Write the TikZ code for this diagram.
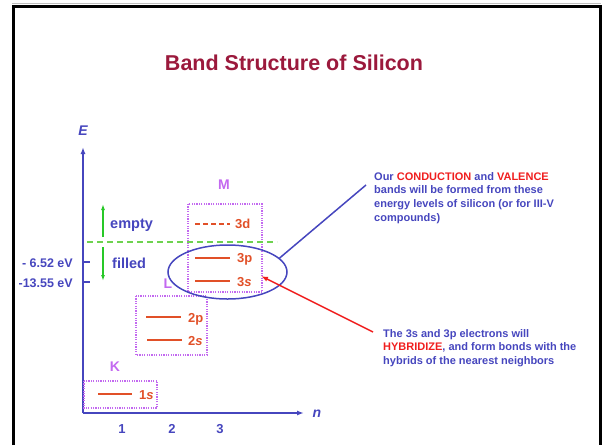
\documentclass[tikz,border=0pt]{standalone}
\usepackage{fontspec}
\setmainfont{Liberation Sans}
\usetikzlibrary{arrows.meta,shapes.geometric}
\definecolor{titlered}{RGB}{155,25,60}
\definecolor{axblue}{RGB}{70,70,190}
\definecolor{lvl}{RGB}{225,80,40}
\definecolor{vio}{RGB}{195,105,240}
\definecolor{grn}{RGB}{40,200,40}
\definecolor{lgrn}{RGB}{110,210,80}
\definecolor{hred}{RGB}{240,30,30}
\begin{document}
\begin{tikzpicture}[x=1pt,y=-1pt,
  lab/.style={inner sep=0pt,font=\fontsize{13}{15}\selectfont\bfseries},
  axlab/.style={lab,text=axblue},
  lvllab/.style={lab,text=lvl},
  shell/.style={inner sep=0pt,text=vio,font=\fontsize{14}{16}\selectfont\bfseries},
  shellbox/.style={draw=vio,line width=1.2pt,dash pattern=on 1.2pt off 1.2pt},
  level/.style={draw=lvl,line width=2pt},
  axis/.style={draw=axblue,line width=1.6pt,-{Latex[length=7pt,width=5pt]}},
  garrow/.style={draw=grn,line width=1.4pt,-{Latex[length=6pt,width=4pt]}},
  note/.style={inner sep=0pt,align=left,text=axblue,font=\fontsize{11}{13.8}\selectfont\bfseries}]
\useasboundingbox (0,0) rectangle (602,445);
% frame
\draw[black!25,line width=0.8pt] (12,3.6) -- (601,3.6);
\draw[line width=2.8pt] (13.5,445) -- (13.5,6.2) -- (600.5,6.2) -- (600.5,445);
% title
\node[inner sep=0pt,anchor=base,text=titlered,font=\fontsize{21.5}{24}\selectfont\bfseries] (title) at (294,70) {Band Structure of Silicon};
% axes
\coordinate (O) at (83,413);
\coordinate (Etip) at (83,147);
\coordinate (ntip) at (304,413);
\draw[axis] (O) -- (Etip);
\draw[axis] (O) -- (ntip);
\node[axlab,anchor=base,font=\fontsize{14}{16}\selectfont\bfseries\itshape] (E) at (83,135) {E};
\node[axlab,anchor=base,font=\fontsize{14}{16}\selectfont\bfseries\itshape] (n) at (317,417) {n};
\node[axlab,anchor=base] (x1) at (122,433) {1};
\node[axlab,anchor=base] (x2) at (172,433) {2};
\node[axlab,anchor=base] (x3) at (220,433) {3};
% ticks
\coordinate (t1a) at (83,262); \coordinate (t1b) at (90,262);
\coordinate (t2a) at (83,282); \coordinate (t2b) at (90,282);
\draw[axblue,line width=1.5pt] (t1a) -- (t1b);
\draw[axblue,line width=1.5pt] (t2a) -- (t2b);
\node[axlab,anchor=base east,font=\fontsize{12.5}{15}\selectfont\bfseries] (ev1) at (73,267) {- 6.52 eV};
\node[axlab,anchor=base east,font=\fontsize{12.5}{15}\selectfont\bfseries] (ev2) at (73,287) {-13.55 eV};
% empty / filled
\coordinate (gmid1) at (103,237);
\coordinate (gtop) at (103,204);
\coordinate (gmid2) at (103,247);
\coordinate (gbot) at (103,281);
\draw[garrow] (gmid1) -- (gtop);
\draw[garrow] (gmid2) -- (gbot);
\node[axlab,anchor=base west,font=\fontsize{14.5}{16}\selectfont\bfseries] (empty) at (110,228) {empty};
\node[axlab,anchor=base west,font=\fontsize{14.5}{16}\selectfont\bfseries] (filled) at (112,268) {filled};
% shell boxes
\draw[shellbox] (84,381) rectangle (157,408);
\draw[shellbox] (136,296) rectangle (207,355);
\draw[shellbox] (188,204) rectangle (262,292);
\node[shell,anchor=base] (K) at (115,371) {K};
\node[shell,anchor=base] (L) at (168,288) {L};
\node[shell,anchor=base] (M) at (224,189) {M};
% fermi line
\coordinate (fl) at (87,242); \coordinate (fr) at (277,242);
\draw[lgrn,line width=1.4pt,dash pattern=on 6pt off 4pt] (fl) -- (fr);
% levels
\draw[level] (98,394) -- (132,394);
\node[lvllab,anchor=base west] (l1s) at (139,399) {1\textit{s}};
\draw[level] (146,317) -- (181,317);
\node[lvllab,anchor=base west] (l2p) at (188,322) {2p};
\draw[level] (147,340) -- (182,340);
\node[lvllab,anchor=base west] (l2s) at (188,345) {2\textit{s}};
\draw[level,dash pattern=on 5pt off 3pt] (195,224) -- (230,224);
\node[lvllab,anchor=base west] (l3d) at (235,228) {3d};
\draw[level] (195,258) -- (230,258);
\node[lvllab,anchor=base west] (l3p) at (237,262) {3p};
\draw[level] (195,281) -- (230,281);
\node[lvllab,anchor=base west] (l3s) at (237,286) {3\textit{s}};
% ellipse
\node[ellipse,draw=axblue,line width=1.5pt,minimum width=119pt,minimum height=54pt,inner sep=0pt] (ell) at (227.5,272) {};
% notes
\node[note,anchor=north west] (note1) at (374,172) {Our \textcolor{hred}{CONDUCTION} and \textcolor{hred}{VALENCE}\\bands will be formed from these\\energy levels of silicon (or for III-V\\compounds)};
\node[note,anchor=north west] (note2) at (383,329) {The 3s and 3p electrons will\\\textcolor{hred}{HYBRIDIZE}, and form bonds with the\\hybrids of the nearest neighbors};
\coordinate (c1) at (366,185);
\draw[axblue,line width=1.5pt] (ell.15) -- (c1);
\coordinate (c2) at (373,332);
\coordinate (tip) at (261,276);
\draw[hred,line width=1.5pt,-{Latex[length=7pt,width=5pt]}] (c2) -- (tip);
\end{tikzpicture}
\end{document}
